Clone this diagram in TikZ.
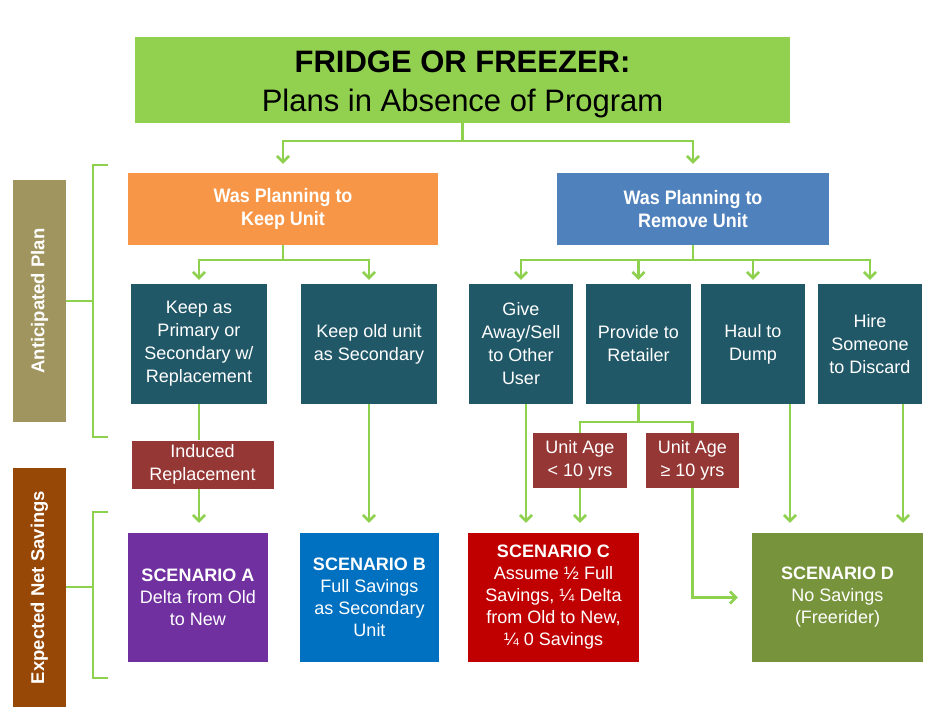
\documentclass[tikz,border=0pt]{standalone}
\usepackage{fontspec}
\setmainfont{Liberation Sans}
\newfontfamily\narrowfont[FakeStretch=0.92]{Liberation Sans}
\usetikzlibrary{arrows.meta}
\definecolor{titlegreen}{HTML}{92D050}
\definecolor{linkgreen}{HTML}{8ED14F}
\definecolor{keeporange}{HTML}{F79646}
\definecolor{removeblue}{HTML}{4F81BD}
\definecolor{teal}{HTML}{215868}
\definecolor{darkred}{HTML}{953735}
\definecolor{scApurple}{HTML}{7030A0}
\definecolor{scBblue}{HTML}{0070C0}
\definecolor{scCred}{HTML}{C00000}
\definecolor{scDolive}{HTML}{77933C}
\definecolor{tan}{HTML}{A0945F}
\definecolor{brown}{HTML}{974806}
\tikzset{
  box/.style={inner sep=0pt, align=center, text=white, font=\fontsize{18}{23}\selectfont},
  planbox/.style={box, font=\narrowfont\bfseries\fontsize{19.5}{23}\selectfont},
  tealbox/.style={box, fill=teal, minimum height=120pt},
  agebox/.style={box, fill=darkred},
  scenbox/.style={box, minimum height=129pt, font=\fontsize{18}{22}\selectfont},
  sidelabel/.style={box, rotate=90, minimum height=53pt, font=\bfseries\fontsize{18.5}{22}\selectfont},
  link/.style={draw=linkgreen, line width=2.6pt},
  arrowlink/.style={link, -{Straight Barb[length=6pt,width=12pt]}, shorten >=10pt},
}
\begin{document}
\begin{tikzpicture}[x=1pt,y=-1pt]
\useasboundingbox (0,0) rectangle (935,719);

% title
\node[box, fill=titlegreen, minimum width=655pt, minimum height=86pt] (title) at (462.5,80) {};
\node[box, text=black, font=\fontsize{31}{39}\selectfont] (titletext) at (462.5,84)
  {\textbf{FRIDGE OR FREEZER:}\\Plans in Absence of Program};

% plan boxes
\node[planbox, fill=keeporange, minimum width=310pt, minimum height=72pt] (keep) at (283,209)
  {Was Planning to\\Keep Unit};
\node[planbox, fill=removeblue, minimum width=272pt, minimum height=72pt] (remove) at (693,209)
  {Was Planning to\\Remove Unit};

% teal boxes
\node[tealbox, minimum width=136pt] (t1) at (199,344) {Keep as\\Primary or\\Secondary w/\\Replacement};
\node[tealbox, minimum width=136pt] (t2) at (369,344) {Keep old unit\\as Secondary};
\node[tealbox, minimum width=104pt] (t3) at (521,344) {Give\\Away/Sell\\to Other\\User};
\node[tealbox, minimum width=105pt] (t4) at (638.5,344) {Provide to\\Retailer};
\node[tealbox, minimum width=104pt] (t5) at (753,344) {Haul to\\Dump};
\node[tealbox, minimum width=104pt] (t6) at (870,344) {Hire\\Someone\\to Discard};

% red condition boxes
\node[agebox, minimum width=142pt, minimum height=48pt] (induced) at (202.5,464.5) {Induced\\Replacement};
\node[agebox, minimum width=94pt, minimum height=55pt] (lt) at (580,460.5) {Unit Age\\< 10 yrs};
\node[agebox, minimum width=93pt, minimum height=55pt] (ge) at (692.5,460.5) {Unit Age\\≥ 10 yrs};

% scenarios
\node[scenbox, fill=scApurple, minimum width=140pt] (scA) at (198,597.5)
  {\textbf{SCENARIO A}\\Delta from Old\\to New};
\node[scenbox, fill=scBblue, minimum width=139pt] (scB) at (369.5,597.5)
  {\textbf{SCENARIO B}\\Full Savings\\as Secondary\\Unit};
\node[scenbox, fill=scCred, minimum width=171pt] (scC) at (553.5,597.5)
  {\textbf{SCENARIO C}\\Assume ½ Full\\Savings, ¼ Delta\\from Old to New,\\¼ 0 Savings};
\node[scenbox, fill=scDolive, minimum width=171pt] (scD) at (837.5,597.5)
  {\textbf{SCENARIO D}\\No Savings\\(Freerider)};

% side labels
\node[sidelabel, fill=tan, minimum width=242pt] (ap) at (39.5,301) {Anticipated Plan};
\node[sidelabel, fill=brown, minimum width=239pt] (ens) at (39.5,587.5) {Expected Net Savings};

% brackets
\coordinate (apR) at (66,301);
\coordinate (apB) at (93,301);
\coordinate (ensR) at (66,587);
\coordinate (ensB) at (93,587);
\draw[link] (108,165) -- (93,165) -- (93,437) -- (108,437);
\draw[link] (apR) -- (apB);
\draw[link] (108,512) -- (93,512) -- (93,678) -- (108,678);
\draw[link] (ensR) -- (ensB);

% title connectors
\coordinate (j0) at (462.5,141);
\draw[link] (title.south) -- (j0);
\draw[arrowlink, shorten >=9pt] (j0) -| (keep.north);
\draw[arrowlink, shorten >=9pt] (j0) -| (remove.north);

% keep connectors
\coordinate (jk) at (283,260);
\draw[link] (keep.south) -- (jk);
\draw[arrowlink, shorten >=4pt] (jk) -| (t1.north);
\draw[arrowlink, shorten >=4pt] (jk) -| (t2.north);

% remove connectors
\coordinate (jr) at (693,260);
\draw[link] (remove.south) -- (jr);
\draw[arrowlink, shorten >=4pt] (jr) -| (t3.north);
\draw[arrowlink, shorten >=4pt] (jr) -| (t4.north);
\draw[arrowlink, shorten >=4pt] (jr) -| (t5.north);
\draw[arrowlink, shorten >=4pt] (jr) -| (t6.north);

% keep -> scenarios
\draw[link] (t1.south) -- (t1.south |- induced.north);
\draw[arrowlink] (t1.south |- induced.south) -- (t1.south |- scA.north);
\draw[arrowlink] (t2.south) -- (t2.south |- scB.north);

% remove -> scenarios
\draw[arrowlink] ([xshift=5pt]t3.south) -- ([xshift=5pt]t3.south |- scC.north);
\coordinate (jp) at (638.5,422);
\draw[link] (t4.south) -- (jp);
\draw[link] (jp) -| (lt.north);
\draw[link] (jp) -| (ge.north);
\draw[arrowlink] (lt.south) -- (lt.south |- scC.north);
\draw[arrowlink, shorten >=14pt] (ge.south) |- (scD.west);
\draw[arrowlink] ([xshift=37pt]t5.south) -- ([xshift=37pt]t5.south |- scD.north);
\draw[arrowlink] ([xshift=33pt]t6.south) -- ([xshift=33pt]t6.south |- scD.north);
\end{tikzpicture}
\end{document}
